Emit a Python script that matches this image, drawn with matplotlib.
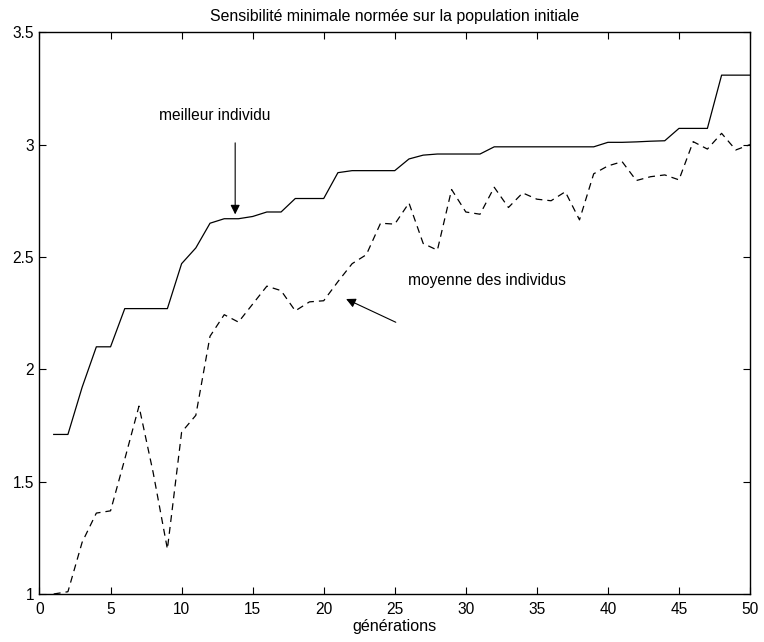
import matplotlib
matplotlib.use('Agg')
import matplotlib.pyplot as plt

plt.rcParams['font.family'] = ['Liberation Sans', 'DejaVu Sans']
plt.rcParams['lines.scale_dashes'] = False

# generation numbers
generations = list(range(1, 51))

# best individual per generation
best = [1.71, 1.71, 1.92, 2.10, 2.10, 2.27, 2.27, 2.27, 2.27, 2.47,
        2.54, 2.65, 2.67, 2.67, 2.68, 2.70, 2.70, 2.76, 2.76, 2.76,
        2.875, 2.884, 2.884, 2.884, 2.884, 2.936, 2.953, 2.958, 2.958, 2.958,
        2.958, 2.99, 2.99, 2.99, 2.99, 2.99, 2.99, 2.99, 2.99, 3.01,
        3.01, 3.012, 3.015, 3.017, 3.072, 3.072, 3.072, 3.309, 3.309, 3.309]

# mean of individuals per generation
mean = [1.00, 1.01, 1.23, 1.36, 1.37, 1.60, 1.836, 1.54, 1.20, 1.72,
        1.795, 2.147, 2.243, 2.21, 2.29, 2.37, 2.35, 2.26, 2.30, 2.305,
        2.39, 2.47, 2.51, 2.65, 2.646, 2.74, 2.56, 2.53, 2.80, 2.70,
        2.69, 2.81, 2.72, 2.785, 2.757, 2.75, 2.79, 2.665, 2.87, 2.905,
        2.924, 2.84, 2.857, 2.865, 2.843, 3.013, 2.98, 3.05, 2.976, 3.0]

fig = plt.figure(figsize=(7.64, 6.42), dpi=100)
ax = fig.add_axes([0.0517, 0.0748, 0.930, 0.875])

ax.plot(generations, best, color='black', linewidth=0.9)
ax.plot(generations, mean, color='black', linewidth=0.9, linestyle='--', dashes=(5, 3.6))

ax.set_xlim(0, 50)
ax.set_ylim(1, 3.5)
ax.set_xticks(range(0, 51, 5))
ax.set_yticks([1, 1.5, 2, 2.5, 3, 3.5])
ax.set_yticklabels(['1', '1.5', '2', '2.5', '3', '3.5'])
ax.tick_params(direction='in', top=True, right=True, length=5, labelsize=11.2)
ax.tick_params(axis='x', pad=6)
ax.tick_params(axis='y', pad=4)
for s in ax.spines.values():
    s.set_linewidth(1.0)

ax.set_title('Sensibilité minimale normée sur la population initiale', fontsize=11.4, pad=8)
ax.set_xlabel('générations', fontsize=11.6, labelpad=1)

ax.annotate('', xy=(13.77, 2.677), xytext=(13.77, 3.02),
            arrowprops=dict(arrowstyle='-|>', color='black', lw=0.8, mutation_scale=14))
ax.text(12.3, 3.13, 'meilleur individu', ha='center', va='center', fontsize=11.2)

ax.annotate('', xy=(21.4, 2.318), xytext=(25.25, 2.204),
            arrowprops=dict(arrowstyle='-|>', color='black', lw=0.8, mutation_scale=14))
ax.text(25.95, 2.395, 'moyenne des individus', ha='left', va='center', fontsize=11.2)

fig.savefig('out.png', dpi=100)
